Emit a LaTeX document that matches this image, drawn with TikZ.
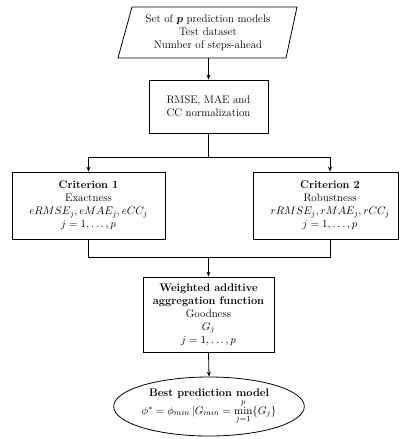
\documentclass[tikz,border=0pt]{standalone}
\usepackage{amsmath}
\usepackage{bm}
\usetikzlibrary{arrows.meta,shapes.geometric}
\begin{document}
\begin{tikzpicture}[x=1pt,y=-1pt,
  box/.style={draw, line width=0.8pt},
  txt/.style={align=center, font=\fontsize{11}{13}\selectfont, inner sep=0pt},
  arr/.style={-{Stealth[length=5pt,width=4pt]}, line width=0.8pt},
  ln/.style={line width=0.8pt}]
\useasboundingbox (0,0) rectangle (400,439);

% input parallelogram
\draw[box] (132,7) -- (297,7) -- (286,58) -- (118,58) -- cycle;
\node[txt] (inputs) at (208,33) {Set of $\bm{p}$ prediction models\\Test dataset\\Number of steps-ahead};
\coordinate (inbot) at (208.5,58);

% normalization
\node[box, txt, minimum width=119pt, minimum height=53pt] (norm) at (208.5,106.5)
  {RMSE, MAE and\\CC normalization};

% criteria
\node[box, txt, minimum width=153pt, minimum height=67pt] (crit1) at (88.5,205.5)
  {\textbf{Criterion 1}\\Exactness\\$eRMSE_j, eMAE_j, eCC_j$\\$j=1,\ldots,p$};
\node[box, minimum width=145pt, minimum height=67pt, inner sep=0pt] (crit2) at (325.5,205.5) {};
\node[txt] (crit2txt) at (330,205.5)
  {\textbf{Criterion 2}\\Robustness\\$rRMSE_j, rMAE_j, rCC_j$\\$j=1,\ldots,p$};

% aggregation
\node[box, txt, minimum width=131pt, minimum height=75pt] (agg) at (208.5,314.5)
  {\textbf{Weighted additive}\\\textbf{aggregation function}\\Goodness\\$G_j$\\$j=1,\ldots,p$};

% best model
\node[box, txt, ellipse, minimum width=176pt, minimum height=59pt] (best) at (209,406.5)
  {\textbf{Best prediction model}\\$\phi^{*}=\phi_{min}\,|G_{min}=\min\limits_{j=1}^{p}\{G_j\}$};

% connectors
\coordinate (split) at (208.5,157);
\coordinate (sl) at (88.5,157);
\coordinate (sr) at (330,157);
\coordinate (ml) at (88.5,257);
\coordinate (mr) at (330,257);
\coordinate (mm) at (208.5,257);

\draw[arr] (inbot) -- (norm.north);
\draw[ln] (norm.south) -- (split);
\draw[ln] (sl) -- (sr);
\draw[arr] (sl) -- (crit1.north);
\draw[arr] (sr) -- (sr |- crit2.north);
\draw[ln] (crit1.south) -- (ml) -- (mr) -- (mr |- crit2.south);
\draw[arr] (mm) -- (agg.north);
\draw[arr] (agg.south) -- (best.north);
\end{tikzpicture}
\end{document}
